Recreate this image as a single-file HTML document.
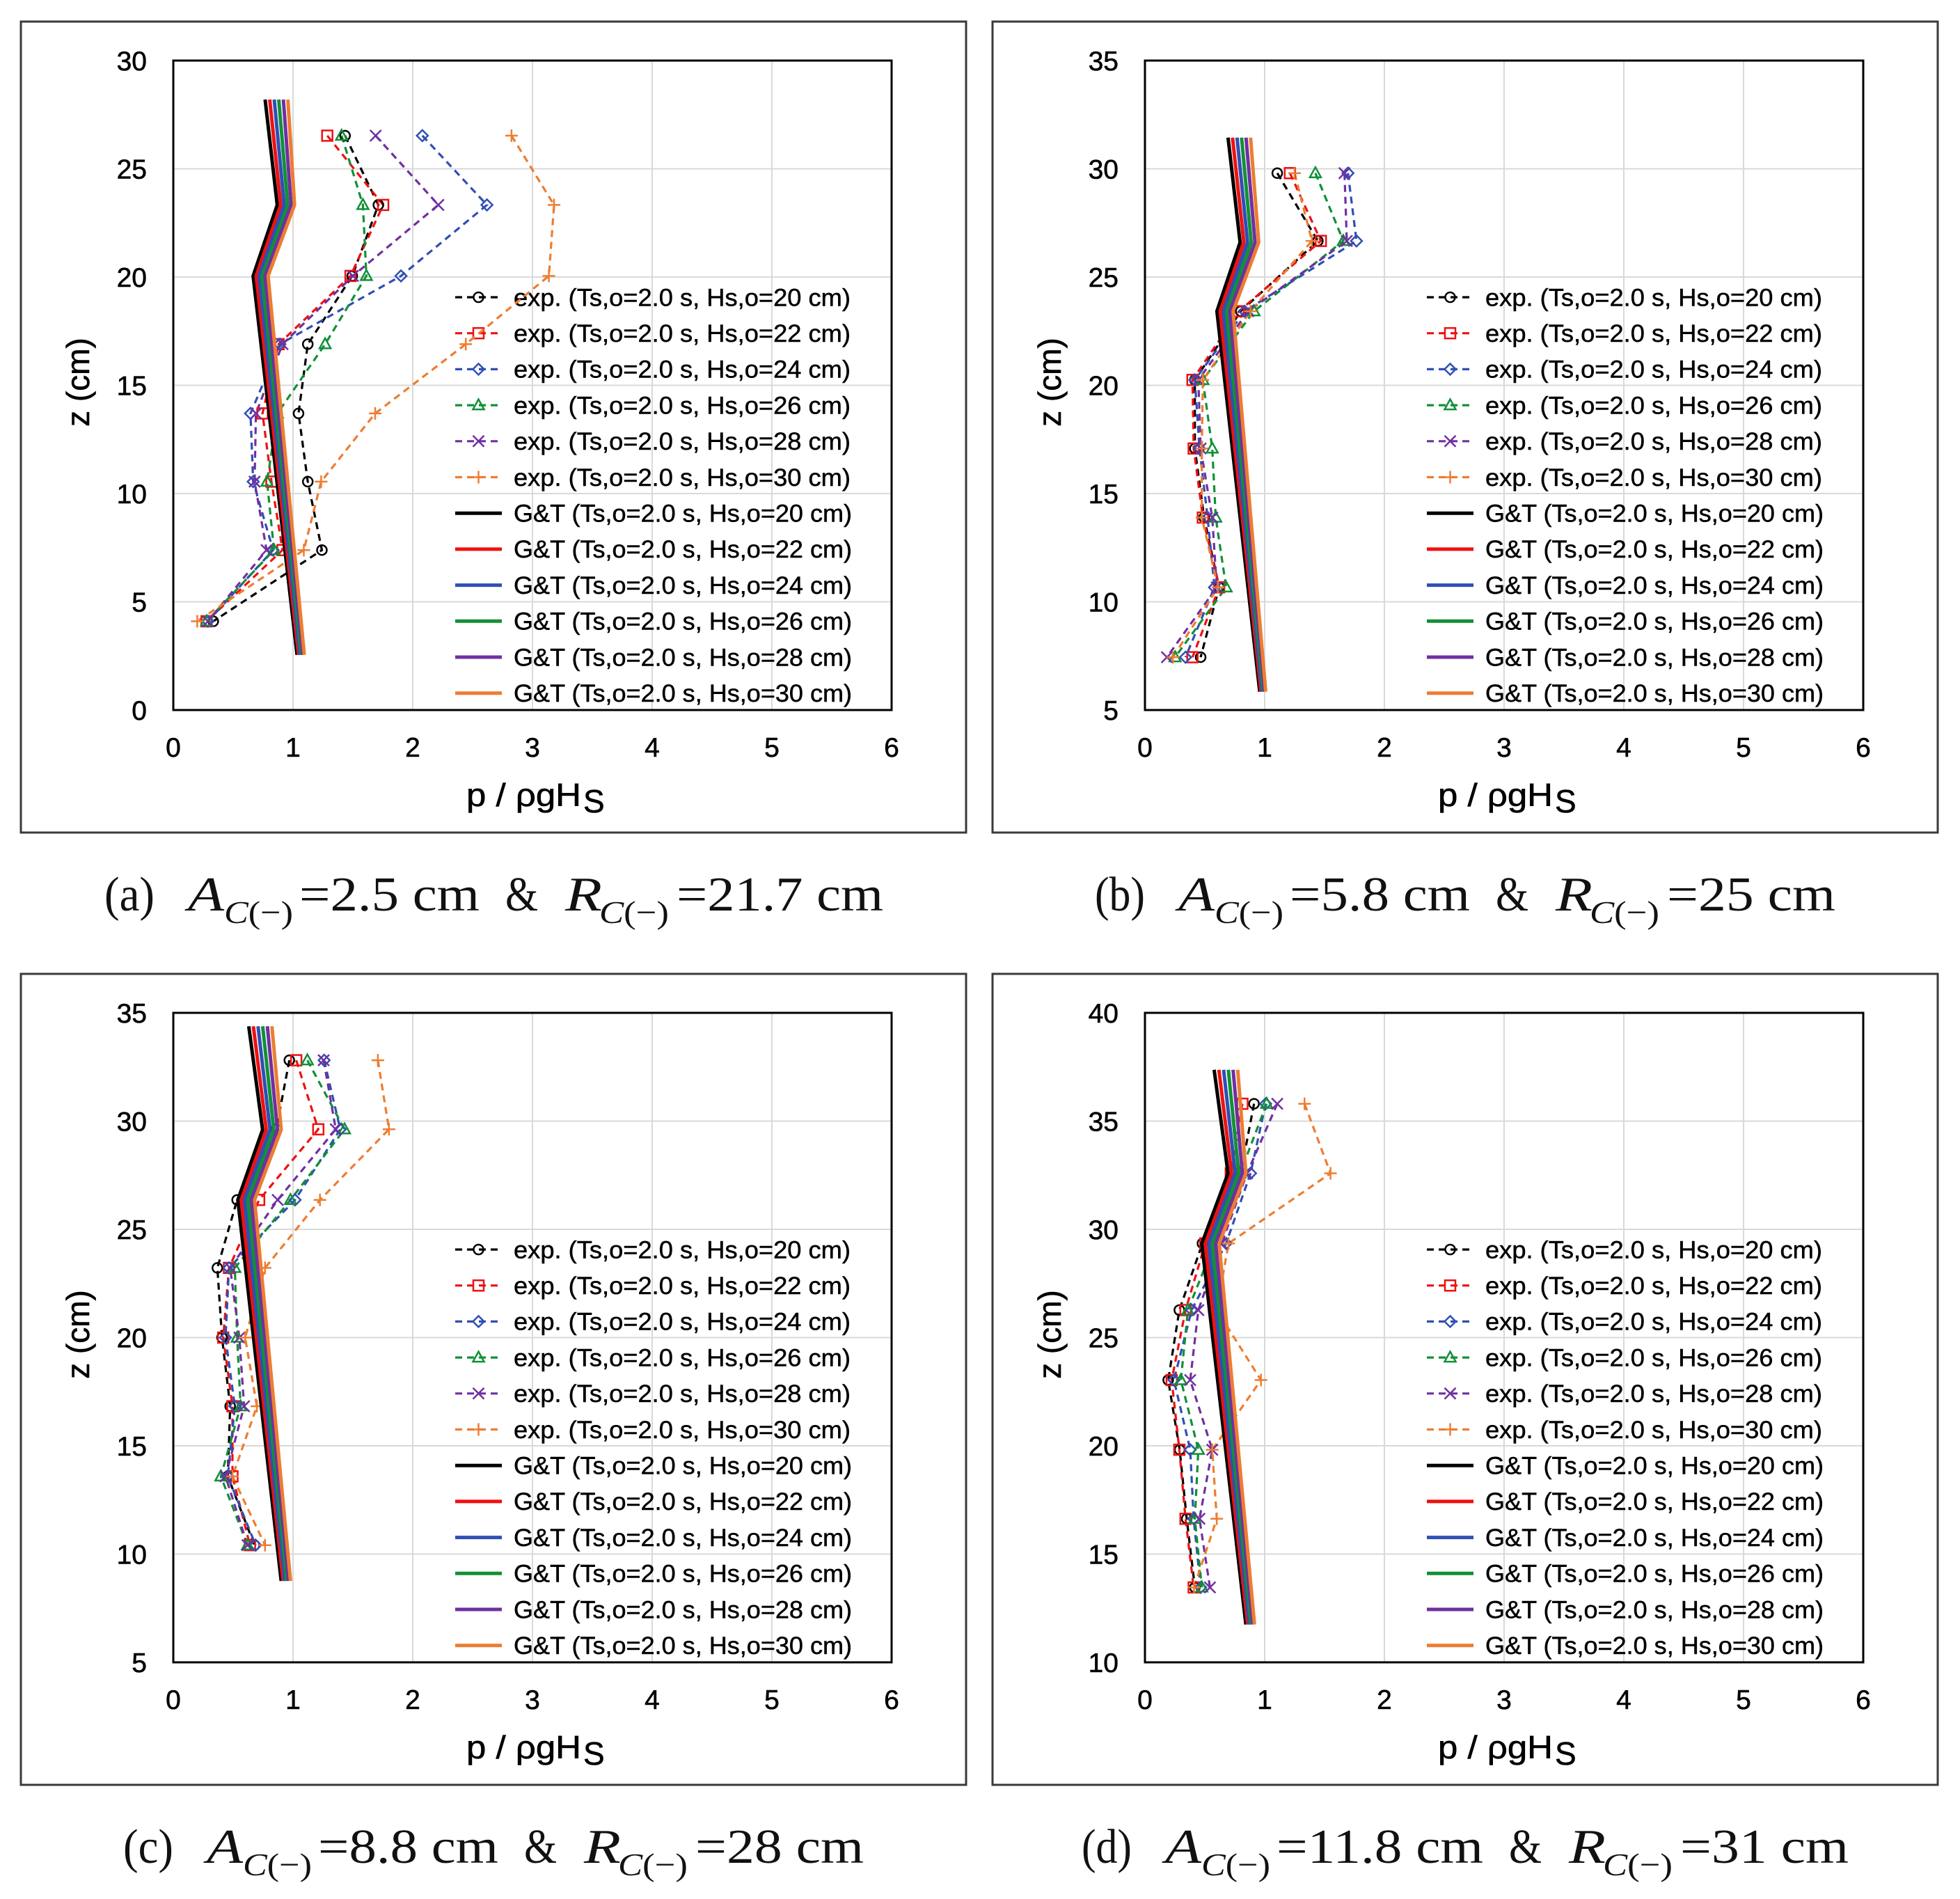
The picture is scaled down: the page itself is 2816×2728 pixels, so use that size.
<!DOCTYPE html>
<html><head><meta charset="utf-8">
<style>
html,body{margin:0;padding:0;background:#fff;}
svg{display:block;}
.tk{font-family:"Liberation Sans",sans-serif;font-size:39px;fill:#000;stroke:#000;stroke-width:0.6px;}
.lg{font-family:"Liberation Sans",sans-serif;font-size:35px;fill:#000;stroke:#000;stroke-width:0.5px;}
.ttl{font-family:"Liberation Sans",sans-serif;font-size:46px;fill:#000;stroke:#000;stroke-width:0.6px;}
.cap{font-family:"Liberation Serif",serif;font-size:70px;fill:#111;}
.sub{font-family:"Liberation Serif",serif;font-size:46px;fill:#111;}
.gt{fill:none;stroke-width:5;stroke-linejoin:round;}
.ex{fill:none;stroke-width:3.2;stroke-dasharray:10 7;}
</style></head><body>
<svg xmlns="http://www.w3.org/2000/svg" width="2816" height="2728" viewBox="0 0 2816 2728">
<defs>
<g id="mk0"><circle r="7" fill="none" stroke="#000" stroke-width="2.5"/></g>
<g id="mk1"><rect x="-7.5" y="-7.5" width="15" height="15" fill="none" stroke="#ee1111" stroke-width="2.5"/></g>
<g id="mk2"><path d="M0,-8 L8,0 L0,8 L-8,0Z" fill="none" stroke="#2f4fb5" stroke-width="2.5"/></g>
<g id="mk3"><path d="M0,-8.5 L8,6 L-8,6Z" fill="none" stroke="#119037" stroke-width="2.5"/></g>
<g id="mk4"><path d="M-8,-8 L8,8 M-8,8 L8,-8" stroke="#7030a0" stroke-width="2.5"/></g>
<g id="mk5"><path d="M-9,0 L9,0 M0,-9 L0,9" stroke="#ed7d31" stroke-width="2.5"/></g>
</defs>
<rect width="2816" height="2728" fill="#fff"/>

<!-- ================= PANEL A ================= -->
<g transform="translate(0,0)">
<rect x="30" y="31" width="1358" height="1165" fill="none" stroke="#3a3a3a" stroke-width="3"/>
<g stroke="#d9d9d9" stroke-width="2">
<line x1="249" x2="1281" y1="242.5" y2="242.5"/><line x1="249" x2="1281" y1="398" y2="398"/><line x1="249" x2="1281" y1="553.5" y2="553.5"/><line x1="249" x2="1281" y1="709" y2="709"/><line x1="249" x2="1281" y1="864.5" y2="864.5"/>
<line x1="421" x2="421" y1="87" y2="1020"/><line x1="593" x2="593" y1="87" y2="1020"/><line x1="765" x2="765" y1="87" y2="1020"/><line x1="937" x2="937" y1="87" y2="1020"/><line x1="1109" x2="1109" y1="87" y2="1020"/>
</g>
<rect x="249" y="87" width="1032" height="933" fill="none" stroke="#000" stroke-width="3"/>
<g class="tk" text-anchor="end">
<text x="211" y="101">30</text><text x="211" y="256.5">25</text><text x="211" y="412">20</text><text x="211" y="567.5">15</text><text x="211" y="723">10</text><text x="211" y="878.5">5</text><text x="211" y="1034">0</text>
</g>
<g class="tk" text-anchor="middle">
<text x="249" y="1087">0</text><text x="421" y="1087">1</text><text x="593" y="1087">2</text><text x="765" y="1087">3</text><text x="937" y="1087">4</text><text x="1109" y="1087">5</text><text x="1281" y="1087">6</text>
</g>
<text x="670" y="1158" class="ttl" textLength="165" lengthAdjust="spacingAndGlyphs">p / ρgH</text><text x="838" y="1167" class="ttl" font-size="30">S</text>
<text transform="translate(128,549) rotate(-90)" text-anchor="middle" class="ttl" font-size="48">z (cm)</text>
<!-- legend -->
<g class="ex"><line x1="654" x2="721" y1="427" y2="427" stroke="#000"/><line x1="654" x2="721" y1="478.7" y2="478.7" stroke="#ee1111"/><line x1="654" x2="721" y1="530.4" y2="530.4" stroke="#2f4fb5"/><line x1="654" x2="721" y1="582.1" y2="582.1" stroke="#119037"/><line x1="654" x2="721" y1="633.8" y2="633.8" stroke="#7030a0"/><line x1="654" x2="721" y1="685.5" y2="685.5" stroke="#ed7d31"/></g>
<use href="#mk0" x="687.5" y="427"/><use href="#mk1" x="687.5" y="478.7"/><use href="#mk2" x="687.5" y="530.4"/><use href="#mk3" x="687.5" y="582.1"/><use href="#mk4" x="687.5" y="633.8"/><use href="#mk5" x="687.5" y="685.5"/>
<g class="gt"><line x1="654" x2="721" y1="737.2" y2="737.2" stroke="#000"/><line x1="654" x2="721" y1="788.9" y2="788.9" stroke="#ee1111"/><line x1="654" x2="721" y1="840.6" y2="840.6" stroke="#2f4fb5"/><line x1="654" x2="721" y1="892.3" y2="892.3" stroke="#119037"/><line x1="654" x2="721" y1="944" y2="944" stroke="#7030a0"/><line x1="654" x2="721" y1="995.7" y2="995.7" stroke="#ed7d31"/></g>
<g class="lg">
<text x="738" y="439.3" textLength="484" lengthAdjust="spacingAndGlyphs">exp. (Ts,o=2.0 s, Hs,o=20 cm)</text>
<text x="738" y="491" textLength="484" lengthAdjust="spacingAndGlyphs">exp. (Ts,o=2.0 s, Hs,o=22 cm)</text>
<text x="738" y="542.7" textLength="484" lengthAdjust="spacingAndGlyphs">exp. (Ts,o=2.0 s, Hs,o=24 cm)</text>
<text x="738" y="594.4" textLength="484" lengthAdjust="spacingAndGlyphs">exp. (Ts,o=2.0 s, Hs,o=26 cm)</text>
<text x="738" y="646.1" textLength="484" lengthAdjust="spacingAndGlyphs">exp. (Ts,o=2.0 s, Hs,o=28 cm)</text>
<text x="738" y="697.8" textLength="484" lengthAdjust="spacingAndGlyphs">exp. (Ts,o=2.0 s, Hs,o=30 cm)</text>
<text x="738" y="749.5" textLength="486" lengthAdjust="spacingAndGlyphs">G&amp;T (Ts,o=2.0 s, Hs,o=20 cm)</text>
<text x="738" y="801.2" textLength="486" lengthAdjust="spacingAndGlyphs">G&amp;T (Ts,o=2.0 s, Hs,o=22 cm)</text>
<text x="738" y="852.9" textLength="486" lengthAdjust="spacingAndGlyphs">G&amp;T (Ts,o=2.0 s, Hs,o=24 cm)</text>
<text x="738" y="904.6" textLength="486" lengthAdjust="spacingAndGlyphs">G&amp;T (Ts,o=2.0 s, Hs,o=26 cm)</text>
<text x="738" y="956.3" textLength="486" lengthAdjust="spacingAndGlyphs">G&amp;T (Ts,o=2.0 s, Hs,o=28 cm)</text>
<text x="738" y="1008" textLength="486" lengthAdjust="spacingAndGlyphs">G&amp;T (Ts,o=2.0 s, Hs,o=30 cm)</text>
</g>
<!-- data -->
<g transform="translate(249,1020)">
<polyline class="ex" stroke="#000" points="246.8,-825.1 294.6,-725.6 257.1,-623.6 193.2,-525.6 179.9,-426.1 193.2,-328.1 213.5,-229.8 57.4,-127.5"/>
<polyline class="ex" stroke="#ee1111" points="221.2,-825.1 301.5,-725.6 254.6,-623.6 151.2,-525.6 128.1,-426.1 141,-328.1 156.9,-229.8 47.8,-127.5"/>
<polyline class="ex" stroke="#2f4fb5" points="357.8,-825.1 450.6,-725.6 327.1,-623.6 153.1,-525.6 110.9,-426.1 114.7,-328.1 143.4,-229.8 49.7,-127.5"/>
<polyline class="ex" stroke="#119037" points="241.8,-825.1 272.4,-725.6 277.4,-623.6 218.1,-525.6 149.6,-426.1 134.7,-328.1 144.7,-229.8 47.8,-127.5"/>
<polyline class="ex" stroke="#7030a0" points="290.7,-825.1 380.8,-725.6 258,-623.6 156.9,-525.6 118.7,-426.1 116.8,-328.1 134,-229.8 49.7,-127.5"/>
<polyline class="ex" stroke="#ed7d31" points="485.9,-825.1 547,-725.6 539.6,-623.6 420.2,-525.6 290,-426.1 212.4,-328.1 187.5,-229.8 34.4,-127.5"/>
<use href="#mk0" x="246.8" y="-825.1"/><use href="#mk0" x="294.6" y="-725.6"/><use href="#mk0" x="257.1" y="-623.6"/><use href="#mk0" x="193.2" y="-525.6"/><use href="#mk0" x="179.9" y="-426.1"/><use href="#mk0" x="193.2" y="-328.1"/><use href="#mk0" x="213.5" y="-229.8"/><use href="#mk0" x="57.4" y="-127.5"/>
<use href="#mk1" x="221.2" y="-825.1"/><use href="#mk1" x="301.5" y="-725.6"/><use href="#mk1" x="254.6" y="-623.6"/><use href="#mk1" x="151.2" y="-525.6"/><use href="#mk1" x="128.1" y="-426.1"/><use href="#mk1" x="141" y="-328.1"/><use href="#mk1" x="156.9" y="-229.8"/><use href="#mk1" x="47.8" y="-127.5"/>
<use href="#mk2" x="357.8" y="-825.1"/><use href="#mk2" x="450.6" y="-725.6"/><use href="#mk2" x="327.1" y="-623.6"/><use href="#mk2" x="153.1" y="-525.6"/><use href="#mk2" x="110.9" y="-426.1"/><use href="#mk2" x="114.7" y="-328.1"/><use href="#mk2" x="143.4" y="-229.8"/><use href="#mk2" x="49.7" y="-127.5"/>
<use href="#mk3" x="241.8" y="-825.1"/><use href="#mk3" x="272.4" y="-725.6"/><use href="#mk3" x="277.4" y="-623.6"/><use href="#mk3" x="218.1" y="-525.6"/><use href="#mk3" x="149.6" y="-426.1"/><use href="#mk3" x="134.7" y="-328.1"/><use href="#mk3" x="144.7" y="-229.8"/><use href="#mk3" x="47.8" y="-127.5"/>
<use href="#mk4" x="290.7" y="-825.1"/><use href="#mk4" x="380.8" y="-725.6"/><use href="#mk4" x="258" y="-623.6"/><use href="#mk4" x="156.9" y="-525.6"/><use href="#mk4" x="118.7" y="-426.1"/><use href="#mk4" x="116.8" y="-328.1"/><use href="#mk4" x="134" y="-229.8"/><use href="#mk4" x="49.7" y="-127.5"/>
<use href="#mk5" x="485.9" y="-825.1"/><use href="#mk5" x="547" y="-725.6"/><use href="#mk5" x="539.6" y="-623.6"/><use href="#mk5" x="420.2" y="-525.6"/><use href="#mk5" x="290" y="-426.1"/><use href="#mk5" x="212.4" y="-328.1"/><use href="#mk5" x="187.5" y="-229.8"/><use href="#mk5" x="34.4" y="-127.5"/>
<polyline class="gt" stroke="#000" points="131.9,-877 149.3,-725.6 114.7,-623.6 177.8,-79.3"/>
<polyline class="gt" stroke="#ee1111" points="138.5,-877 154.3,-725.6 119.0,-623.6 179.9,-79.3"/>
<polyline class="gt" stroke="#2f4fb5" points="145.0,-877 159.3,-725.6 123.3,-623.6 182.0,-79.3"/>
<polyline class="gt" stroke="#119037" points="151.5,-877 164.3,-725.6 127.6,-623.6 184.0,-79.3"/>
<polyline class="gt" stroke="#7030a0" points="158.1,-877 169.2,-725.6 131.9,-623.6 186.1,-79.3"/>
<polyline class="gt" stroke="#ed7d31" points="164.6,-877 174.2,-725.6 136.2,-623.6 188.2,-79.3"/>
</g>
<!-- caption -->
<text class="cap" x="150" y="1308" textLength="72" lengthAdjust="spacingAndGlyphs">(a)</text>
<text class="cap" x="270" y="1308" font-style="italic" textLength="52" lengthAdjust="spacingAndGlyphs">A</text>
<text class="sub" x="322" y="1326" textLength="99" lengthAdjust="spacingAndGlyphs"><tspan font-style="italic">C</tspan>(−)</text>
<text class="cap" x="430" y="1308" textLength="259" lengthAdjust="spacingAndGlyphs">=2.5 cm</text>
<text class="cap" x="726" y="1308" textLength="47" lengthAdjust="spacingAndGlyphs">&amp;</text>
<text class="cap" x="812" y="1308" font-style="italic" textLength="53" lengthAdjust="spacingAndGlyphs">R</text>
<text class="sub" x="861" y="1326" textLength="100" lengthAdjust="spacingAndGlyphs"><tspan font-style="italic">C</tspan>(−)</text>
<text class="cap" x="972" y="1308" textLength="297" lengthAdjust="spacingAndGlyphs">=21.7 cm</text>
</g>

<!-- ================= PANEL B ================= -->
<g transform="translate(1396,0)">
<rect x="30" y="31" width="1358" height="1165" fill="none" stroke="#3a3a3a" stroke-width="3"/>
<g stroke="#d9d9d9" stroke-width="2">
<line x1="249" x2="1281" y1="242.5" y2="242.5"/><line x1="249" x2="1281" y1="398" y2="398"/><line x1="249" x2="1281" y1="553.5" y2="553.5"/><line x1="249" x2="1281" y1="709" y2="709"/><line x1="249" x2="1281" y1="864.5" y2="864.5"/>
<line x1="421" x2="421" y1="87" y2="1020"/><line x1="593" x2="593" y1="87" y2="1020"/><line x1="765" x2="765" y1="87" y2="1020"/><line x1="937" x2="937" y1="87" y2="1020"/><line x1="1109" x2="1109" y1="87" y2="1020"/>
</g>
<rect x="249" y="87" width="1032" height="933" fill="none" stroke="#000" stroke-width="3"/>
<g class="tk" text-anchor="end">
<text x="211" y="101">35</text><text x="211" y="256.5">30</text><text x="211" y="412">25</text><text x="211" y="567.5">20</text><text x="211" y="723">15</text><text x="211" y="878.5">10</text><text x="211" y="1034">5</text>
</g>
<g class="tk" text-anchor="middle">
<text x="249" y="1087">0</text><text x="421" y="1087">1</text><text x="593" y="1087">2</text><text x="765" y="1087">3</text><text x="937" y="1087">4</text><text x="1109" y="1087">5</text><text x="1281" y="1087">6</text>
</g>
<text x="670" y="1158" class="ttl" textLength="165" lengthAdjust="spacingAndGlyphs">p / ρgH</text><text x="838" y="1167" class="ttl" font-size="30">S</text>
<text transform="translate(128,549) rotate(-90)" text-anchor="middle" class="ttl" font-size="48">z (cm)</text>
<g class="ex"><line x1="654" x2="721" y1="427" y2="427" stroke="#000"/><line x1="654" x2="721" y1="478.7" y2="478.7" stroke="#ee1111"/><line x1="654" x2="721" y1="530.4" y2="530.4" stroke="#2f4fb5"/><line x1="654" x2="721" y1="582.1" y2="582.1" stroke="#119037"/><line x1="654" x2="721" y1="633.8" y2="633.8" stroke="#7030a0"/><line x1="654" x2="721" y1="685.5" y2="685.5" stroke="#ed7d31"/></g>
<use href="#mk0" x="687.5" y="427"/><use href="#mk1" x="687.5" y="478.7"/><use href="#mk2" x="687.5" y="530.4"/><use href="#mk3" x="687.5" y="582.1"/><use href="#mk4" x="687.5" y="633.8"/><use href="#mk5" x="687.5" y="685.5"/>
<g class="gt"><line x1="654" x2="721" y1="737.2" y2="737.2" stroke="#000"/><line x1="654" x2="721" y1="788.9" y2="788.9" stroke="#ee1111"/><line x1="654" x2="721" y1="840.6" y2="840.6" stroke="#2f4fb5"/><line x1="654" x2="721" y1="892.3" y2="892.3" stroke="#119037"/><line x1="654" x2="721" y1="944" y2="944" stroke="#7030a0"/><line x1="654" x2="721" y1="995.7" y2="995.7" stroke="#ed7d31"/></g>
<g class="lg">
<text x="738" y="439.3" textLength="484" lengthAdjust="spacingAndGlyphs">exp. (Ts,o=2.0 s, Hs,o=20 cm)</text>
<text x="738" y="491" textLength="484" lengthAdjust="spacingAndGlyphs">exp. (Ts,o=2.0 s, Hs,o=22 cm)</text>
<text x="738" y="542.7" textLength="484" lengthAdjust="spacingAndGlyphs">exp. (Ts,o=2.0 s, Hs,o=24 cm)</text>
<text x="738" y="594.4" textLength="484" lengthAdjust="spacingAndGlyphs">exp. (Ts,o=2.0 s, Hs,o=26 cm)</text>
<text x="738" y="646.1" textLength="484" lengthAdjust="spacingAndGlyphs">exp. (Ts,o=2.0 s, Hs,o=28 cm)</text>
<text x="738" y="697.8" textLength="484" lengthAdjust="spacingAndGlyphs">exp. (Ts,o=2.0 s, Hs,o=30 cm)</text>
<text x="738" y="749.5" textLength="486" lengthAdjust="spacingAndGlyphs">G&amp;T (Ts,o=2.0 s, Hs,o=20 cm)</text>
<text x="738" y="801.2" textLength="486" lengthAdjust="spacingAndGlyphs">G&amp;T (Ts,o=2.0 s, Hs,o=22 cm)</text>
<text x="738" y="852.9" textLength="486" lengthAdjust="spacingAndGlyphs">G&amp;T (Ts,o=2.0 s, Hs,o=24 cm)</text>
<text x="738" y="904.6" textLength="486" lengthAdjust="spacingAndGlyphs">G&amp;T (Ts,o=2.0 s, Hs,o=26 cm)</text>
<text x="738" y="956.3" textLength="486" lengthAdjust="spacingAndGlyphs">G&amp;T (Ts,o=2.0 s, Hs,o=28 cm)</text>
<text x="738" y="1008" textLength="486" lengthAdjust="spacingAndGlyphs">G&amp;T (Ts,o=2.0 s, Hs,o=30 cm)</text>
</g>
<g transform="translate(249,1020)">
<polyline class="ex" stroke="#000" points="190.1,-771.3 248.4,-673.9 137.6,-572.9 71.7,-474.3 71.7,-375.7 85,-276.5 106.6,-176.3 80,-75.9"/>
<polyline class="ex" stroke="#ee1111" points="208.3,-771.3 252.7,-673.9 135,-572.9 68.3,-474.3 70,-375.7 83.2,-276.5 106.6,-176.3 68.3,-75.9"/>
<polyline class="ex" stroke="#2f4fb5" points="291.7,-771.3 303.9,-673.9 143.3,-572.9 71.7,-474.3 78.3,-375.7 90,-276.5 99.9,-176.3 58.3,-75.9"/>
<polyline class="ex" stroke="#119037" points="244.9,-771.3 285,-673.9 156.7,-572.9 83.2,-474.3 96.7,-375.7 101.7,-276.5 116.6,-176.3 43.3,-75.9"/>
<polyline class="ex" stroke="#7030a0" points="286.7,-771.3 290,-673.9 148.3,-572.9 76.7,-474.3 80,-375.7 96.7,-276.5 103.2,-176.3 31.6,-75.9"/>
<polyline class="ex" stroke="#ed7d31" points="215,-771.3 239.9,-673.9 151.7,-572.9 83.2,-474.3 81.7,-375.7 81.7,-276.5 104.9,-176.3 40.1,-75.9"/>
<use href="#mk0" x="190.1" y="-771.3"/><use href="#mk0" x="248.4" y="-673.9"/><use href="#mk0" x="137.6" y="-572.9"/><use href="#mk0" x="71.7" y="-474.3"/><use href="#mk0" x="71.7" y="-375.7"/><use href="#mk0" x="85" y="-276.5"/><use href="#mk0" x="106.6" y="-176.3"/><use href="#mk0" x="80" y="-75.9"/>
<use href="#mk1" x="208.3" y="-771.3"/><use href="#mk1" x="252.7" y="-673.9"/><use href="#mk1" x="135" y="-572.9"/><use href="#mk1" x="68.3" y="-474.3"/><use href="#mk1" x="70" y="-375.7"/><use href="#mk1" x="83.2" y="-276.5"/><use href="#mk1" x="106.6" y="-176.3"/><use href="#mk1" x="68.3" y="-75.9"/>
<use href="#mk2" x="291.7" y="-771.3"/><use href="#mk2" x="303.9" y="-673.9"/><use href="#mk2" x="143.3" y="-572.9"/><use href="#mk2" x="71.7" y="-474.3"/><use href="#mk2" x="78.3" y="-375.7"/><use href="#mk2" x="90" y="-276.5"/><use href="#mk2" x="99.9" y="-176.3"/><use href="#mk2" x="58.3" y="-75.9"/>
<use href="#mk3" x="244.9" y="-771.3"/><use href="#mk3" x="285" y="-673.9"/><use href="#mk3" x="156.7" y="-572.9"/><use href="#mk3" x="83.2" y="-474.3"/><use href="#mk3" x="96.7" y="-375.7"/><use href="#mk3" x="101.7" y="-276.5"/><use href="#mk3" x="116.6" y="-176.3"/><use href="#mk3" x="43.3" y="-75.9"/>
<use href="#mk4" x="286.7" y="-771.3"/><use href="#mk4" x="290" y="-673.9"/><use href="#mk4" x="148.3" y="-572.9"/><use href="#mk4" x="76.7" y="-474.3"/><use href="#mk4" x="80" y="-375.7"/><use href="#mk4" x="96.7" y="-276.5"/><use href="#mk4" x="103.2" y="-176.3"/><use href="#mk4" x="31.6" y="-75.9"/>
<use href="#mk5" x="215" y="-771.3"/><use href="#mk5" x="239.9" y="-673.9"/><use href="#mk5" x="151.7" y="-572.9"/><use href="#mk5" x="83.2" y="-474.3"/><use href="#mk5" x="81.7" y="-375.7"/><use href="#mk5" x="81.7" y="-276.5"/><use href="#mk5" x="104.9" y="-176.3"/><use href="#mk5" x="40.1" y="-75.9"/>
<polyline class="gt" stroke="#000" points="119.4,-822.3 136.7,-671.8 103.4,-572.9 164.9,-26.4"/>
<polyline class="gt" stroke="#ee1111" points="125.8,-822.3 142.1,-671.8 108.0,-572.9 166.7,-26.4"/>
<polyline class="gt" stroke="#2f4fb5" points="132.3,-822.3 147.4,-671.8 112.7,-572.9 168.4,-26.4"/>
<polyline class="gt" stroke="#119037" points="138.8,-822.3 152.7,-671.8 117.3,-572.9 170.1,-26.4"/>
<polyline class="gt" stroke="#7030a0" points="145.2,-822.3 158.1,-671.8 122.0,-572.9 171.8,-26.4"/>
<polyline class="gt" stroke="#ed7d31" points="151.7,-822.3 163.4,-671.8 126.6,-572.9 173.5,-26.4"/>
</g>
<text class="cap" x="177" y="1308" textLength="72" lengthAdjust="spacingAndGlyphs">(b)</text>
<text class="cap" x="297" y="1308" font-style="italic" textLength="52" lengthAdjust="spacingAndGlyphs">A</text>
<text class="sub" x="349" y="1326" textLength="99" lengthAdjust="spacingAndGlyphs"><tspan font-style="italic">C</tspan>(−)</text>
<text class="cap" x="457" y="1308" textLength="259" lengthAdjust="spacingAndGlyphs">=5.8 cm</text>
<text class="cap" x="753" y="1308" textLength="47" lengthAdjust="spacingAndGlyphs">&amp;</text>
<text class="cap" x="839" y="1308" font-style="italic" textLength="53" lengthAdjust="spacingAndGlyphs">R</text>
<text class="sub" x="888" y="1326" textLength="100" lengthAdjust="spacingAndGlyphs"><tspan font-style="italic">C</tspan>(−)</text>
<text class="cap" x="999" y="1308" textLength="242" lengthAdjust="spacingAndGlyphs">=25 cm</text>
</g>

<!-- ================= PANEL C ================= -->
<g transform="translate(0,1368)">
<rect x="30" y="31" width="1358" height="1165" fill="none" stroke="#3a3a3a" stroke-width="3"/>
<g stroke="#d9d9d9" stroke-width="2">
<line x1="249" x2="1281" y1="242.5" y2="242.5"/><line x1="249" x2="1281" y1="398" y2="398"/><line x1="249" x2="1281" y1="553.5" y2="553.5"/><line x1="249" x2="1281" y1="709" y2="709"/><line x1="249" x2="1281" y1="864.5" y2="864.5"/>
<line x1="421" x2="421" y1="87" y2="1020"/><line x1="593" x2="593" y1="87" y2="1020"/><line x1="765" x2="765" y1="87" y2="1020"/><line x1="937" x2="937" y1="87" y2="1020"/><line x1="1109" x2="1109" y1="87" y2="1020"/>
</g>
<rect x="249" y="87" width="1032" height="933" fill="none" stroke="#000" stroke-width="3"/>
<g class="tk" text-anchor="end">
<text x="211" y="101">35</text><text x="211" y="256.5">30</text><text x="211" y="412">25</text><text x="211" y="567.5">20</text><text x="211" y="723">15</text><text x="211" y="878.5">10</text><text x="211" y="1034">5</text>
</g>
<g class="tk" text-anchor="middle">
<text x="249" y="1087">0</text><text x="421" y="1087">1</text><text x="593" y="1087">2</text><text x="765" y="1087">3</text><text x="937" y="1087">4</text><text x="1109" y="1087">5</text><text x="1281" y="1087">6</text>
</g>
<text x="670" y="1158" class="ttl" textLength="165" lengthAdjust="spacingAndGlyphs">p / ρgH</text><text x="838" y="1167" class="ttl" font-size="30">S</text>
<text transform="translate(128,549) rotate(-90)" text-anchor="middle" class="ttl" font-size="48">z (cm)</text>
<g class="ex"><line x1="654" x2="721" y1="427" y2="427" stroke="#000"/><line x1="654" x2="721" y1="478.7" y2="478.7" stroke="#ee1111"/><line x1="654" x2="721" y1="530.4" y2="530.4" stroke="#2f4fb5"/><line x1="654" x2="721" y1="582.1" y2="582.1" stroke="#119037"/><line x1="654" x2="721" y1="633.8" y2="633.8" stroke="#7030a0"/><line x1="654" x2="721" y1="685.5" y2="685.5" stroke="#ed7d31"/></g>
<use href="#mk0" x="687.5" y="427"/><use href="#mk1" x="687.5" y="478.7"/><use href="#mk2" x="687.5" y="530.4"/><use href="#mk3" x="687.5" y="582.1"/><use href="#mk4" x="687.5" y="633.8"/><use href="#mk5" x="687.5" y="685.5"/>
<g class="gt"><line x1="654" x2="721" y1="737.2" y2="737.2" stroke="#000"/><line x1="654" x2="721" y1="788.9" y2="788.9" stroke="#ee1111"/><line x1="654" x2="721" y1="840.6" y2="840.6" stroke="#2f4fb5"/><line x1="654" x2="721" y1="892.3" y2="892.3" stroke="#119037"/><line x1="654" x2="721" y1="944" y2="944" stroke="#7030a0"/><line x1="654" x2="721" y1="995.7" y2="995.7" stroke="#ed7d31"/></g>
<g class="lg">
<text x="738" y="439.3" textLength="484" lengthAdjust="spacingAndGlyphs">exp. (Ts,o=2.0 s, Hs,o=20 cm)</text>
<text x="738" y="491" textLength="484" lengthAdjust="spacingAndGlyphs">exp. (Ts,o=2.0 s, Hs,o=22 cm)</text>
<text x="738" y="542.7" textLength="484" lengthAdjust="spacingAndGlyphs">exp. (Ts,o=2.0 s, Hs,o=24 cm)</text>
<text x="738" y="594.4" textLength="484" lengthAdjust="spacingAndGlyphs">exp. (Ts,o=2.0 s, Hs,o=26 cm)</text>
<text x="738" y="646.1" textLength="484" lengthAdjust="spacingAndGlyphs">exp. (Ts,o=2.0 s, Hs,o=28 cm)</text>
<text x="738" y="697.8" textLength="484" lengthAdjust="spacingAndGlyphs">exp. (Ts,o=2.0 s, Hs,o=30 cm)</text>
<text x="738" y="749.5" textLength="486" lengthAdjust="spacingAndGlyphs">G&amp;T (Ts,o=2.0 s, Hs,o=20 cm)</text>
<text x="738" y="801.2" textLength="486" lengthAdjust="spacingAndGlyphs">G&amp;T (Ts,o=2.0 s, Hs,o=22 cm)</text>
<text x="738" y="852.9" textLength="486" lengthAdjust="spacingAndGlyphs">G&amp;T (Ts,o=2.0 s, Hs,o=24 cm)</text>
<text x="738" y="904.6" textLength="486" lengthAdjust="spacingAndGlyphs">G&amp;T (Ts,o=2.0 s, Hs,o=26 cm)</text>
<text x="738" y="956.3" textLength="486" lengthAdjust="spacingAndGlyphs">G&amp;T (Ts,o=2.0 s, Hs,o=28 cm)</text>
<text x="738" y="1008" textLength="486" lengthAdjust="spacingAndGlyphs">G&amp;T (Ts,o=2.0 s, Hs,o=30 cm)</text>
</g>
<g transform="translate(249,1020)">
<polyline class="ex" stroke="#000" points="166.7,-864.9 147.9,-765.7 91.7,-664.3 63.3,-566.6 70,-466.5 81.7,-367.9 78.3,-267.1 116.6,-168.3"/>
<polyline class="ex" stroke="#ee1111" points="176.6,-864.9 208.3,-765.7 123.3,-664.3 80,-566.6 71.7,-466.5 85,-367.9 85,-267.1 110.1,-168.3"/>
<polyline class="ex" stroke="#2f4fb5" points="216.7,-864.9 239.9,-765.7 174.9,-664.3 80,-566.6 75,-466.5 88.4,-367.9 78.3,-267.1 118.3,-168.3"/>
<polyline class="ex" stroke="#119037" points="192.6,-864.9 246,-765.7 168.4,-664.3 88.4,-566.6 91.7,-466.5 96.7,-367.9 68.3,-267.1 106.6,-168.3"/>
<polyline class="ex" stroke="#7030a0" points="216,-864.9 233.4,-765.7 150,-664.3 81.7,-566.6 94.9,-466.5 101.7,-367.9 75,-267.1 106.6,-168.3"/>
<polyline class="ex" stroke="#ed7d31" points="293.9,-864.9 309.9,-765.7 210.7,-664.3 131.8,-566.6 103.2,-466.5 120.1,-367.9 85,-267.1 131.8,-168.3"/>
<use href="#mk0" x="166.7" y="-864.9"/><use href="#mk0" x="147.9" y="-765.7"/><use href="#mk0" x="91.7" y="-664.3"/><use href="#mk0" x="63.3" y="-566.6"/><use href="#mk0" x="70" y="-466.5"/><use href="#mk0" x="81.7" y="-367.9"/><use href="#mk0" x="78.3" y="-267.1"/><use href="#mk0" x="116.6" y="-168.3"/>
<use href="#mk1" x="176.6" y="-864.9"/><use href="#mk1" x="208.3" y="-765.7"/><use href="#mk1" x="123.3" y="-664.3"/><use href="#mk1" x="80" y="-566.6"/><use href="#mk1" x="71.7" y="-466.5"/><use href="#mk1" x="85" y="-367.9"/><use href="#mk1" x="85" y="-267.1"/><use href="#mk1" x="110.1" y="-168.3"/>
<use href="#mk2" x="216.7" y="-864.9"/><use href="#mk2" x="239.9" y="-765.7"/><use href="#mk2" x="174.9" y="-664.3"/><use href="#mk2" x="80" y="-566.6"/><use href="#mk2" x="75" y="-466.5"/><use href="#mk2" x="88.4" y="-367.9"/><use href="#mk2" x="78.3" y="-267.1"/><use href="#mk2" x="118.3" y="-168.3"/>
<use href="#mk3" x="192.6" y="-864.9"/><use href="#mk3" x="246" y="-765.7"/><use href="#mk3" x="168.4" y="-664.3"/><use href="#mk3" x="88.4" y="-566.6"/><use href="#mk3" x="91.7" y="-466.5"/><use href="#mk3" x="96.7" y="-367.9"/><use href="#mk3" x="68.3" y="-267.1"/><use href="#mk3" x="106.6" y="-168.3"/>
<use href="#mk4" x="216" y="-864.9"/><use href="#mk4" x="233.4" y="-765.7"/><use href="#mk4" x="150" y="-664.3"/><use href="#mk4" x="81.7" y="-566.6"/><use href="#mk4" x="94.9" y="-466.5"/><use href="#mk4" x="101.7" y="-367.9"/><use href="#mk4" x="75" y="-267.1"/><use href="#mk4" x="106.6" y="-168.3"/>
<use href="#mk5" x="293.9" y="-864.9"/><use href="#mk5" x="309.9" y="-765.7"/><use href="#mk5" x="210.7" y="-664.3"/><use href="#mk5" x="131.8" y="-566.6"/><use href="#mk5" x="103.2" y="-466.5"/><use href="#mk5" x="120.1" y="-367.9"/><use href="#mk5" x="85" y="-267.1"/><use href="#mk5" x="131.8" y="-168.3"/>
<polyline class="gt" stroke="#000" points="108.4,-913.7 128.3,-765.1 92.7,-664.3 155.0,-116.9"/>
<polyline class="gt" stroke="#ee1111" points="115.0,-913.7 133.6,-765.1 97.5,-664.3 157.7,-116.9"/>
<polyline class="gt" stroke="#2f4fb5" points="121.7,-913.7 139.0,-765.1 102.3,-664.3 160.3,-116.9"/>
<polyline class="gt" stroke="#119037" points="128.4,-913.7 144.3,-765.1 107.2,-664.3 163.0,-116.9"/>
<polyline class="gt" stroke="#7030a0" points="135.1,-913.7 149.6,-765.1 112.0,-664.3 165.7,-116.9"/>
<polyline class="gt" stroke="#ed7d31" points="141.7,-913.7 155.0,-765.1 116.8,-664.3 168.4,-116.9"/>
</g>
<text class="cap" x="177" y="1308" textLength="72" lengthAdjust="spacingAndGlyphs">(c)</text>
<text class="cap" x="297" y="1308" font-style="italic" textLength="52" lengthAdjust="spacingAndGlyphs">A</text>
<text class="sub" x="349" y="1326" textLength="99" lengthAdjust="spacingAndGlyphs"><tspan font-style="italic">C</tspan>(−)</text>
<text class="cap" x="457" y="1308" textLength="259" lengthAdjust="spacingAndGlyphs">=8.8 cm</text>
<text class="cap" x="753" y="1308" textLength="47" lengthAdjust="spacingAndGlyphs">&amp;</text>
<text class="cap" x="839" y="1308" font-style="italic" textLength="53" lengthAdjust="spacingAndGlyphs">R</text>
<text class="sub" x="888" y="1326" textLength="100" lengthAdjust="spacingAndGlyphs"><tspan font-style="italic">C</tspan>(−)</text>
<text class="cap" x="999" y="1308" textLength="242" lengthAdjust="spacingAndGlyphs">=28 cm</text>
</g>

<!-- ================= PANEL D ================= -->
<g transform="translate(1396,1368)">
<rect x="30" y="31" width="1358" height="1165" fill="none" stroke="#3a3a3a" stroke-width="3"/>
<g stroke="#d9d9d9" stroke-width="2">
<line x1="249" x2="1281" y1="242.5" y2="242.5"/><line x1="249" x2="1281" y1="398" y2="398"/><line x1="249" x2="1281" y1="553.5" y2="553.5"/><line x1="249" x2="1281" y1="709" y2="709"/><line x1="249" x2="1281" y1="864.5" y2="864.5"/>
<line x1="421" x2="421" y1="87" y2="1020"/><line x1="593" x2="593" y1="87" y2="1020"/><line x1="765" x2="765" y1="87" y2="1020"/><line x1="937" x2="937" y1="87" y2="1020"/><line x1="1109" x2="1109" y1="87" y2="1020"/>
</g>
<rect x="249" y="87" width="1032" height="933" fill="none" stroke="#000" stroke-width="3"/>
<g class="tk" text-anchor="end">
<text x="211" y="101">40</text><text x="211" y="256.5">35</text><text x="211" y="412">30</text><text x="211" y="567.5">25</text><text x="211" y="723">20</text><text x="211" y="878.5">15</text><text x="211" y="1034">10</text>
</g>
<g class="tk" text-anchor="middle">
<text x="249" y="1087">0</text><text x="421" y="1087">1</text><text x="593" y="1087">2</text><text x="765" y="1087">3</text><text x="937" y="1087">4</text><text x="1109" y="1087">5</text><text x="1281" y="1087">6</text>
</g>
<text x="670" y="1158" class="ttl" textLength="165" lengthAdjust="spacingAndGlyphs">p / ρgH</text><text x="838" y="1167" class="ttl" font-size="30">S</text>
<text transform="translate(128,549) rotate(-90)" text-anchor="middle" class="ttl" font-size="48">z (cm)</text>
<g class="ex"><line x1="654" x2="721" y1="427" y2="427" stroke="#000"/><line x1="654" x2="721" y1="478.7" y2="478.7" stroke="#ee1111"/><line x1="654" x2="721" y1="530.4" y2="530.4" stroke="#2f4fb5"/><line x1="654" x2="721" y1="582.1" y2="582.1" stroke="#119037"/><line x1="654" x2="721" y1="633.8" y2="633.8" stroke="#7030a0"/><line x1="654" x2="721" y1="685.5" y2="685.5" stroke="#ed7d31"/></g>
<use href="#mk0" x="687.5" y="427"/><use href="#mk1" x="687.5" y="478.7"/><use href="#mk2" x="687.5" y="530.4"/><use href="#mk3" x="687.5" y="582.1"/><use href="#mk4" x="687.5" y="633.8"/><use href="#mk5" x="687.5" y="685.5"/>
<g class="gt"><line x1="654" x2="721" y1="737.2" y2="737.2" stroke="#000"/><line x1="654" x2="721" y1="788.9" y2="788.9" stroke="#ee1111"/><line x1="654" x2="721" y1="840.6" y2="840.6" stroke="#2f4fb5"/><line x1="654" x2="721" y1="892.3" y2="892.3" stroke="#119037"/><line x1="654" x2="721" y1="944" y2="944" stroke="#7030a0"/><line x1="654" x2="721" y1="995.7" y2="995.7" stroke="#ed7d31"/></g>
<g class="lg">
<text x="738" y="439.3" textLength="484" lengthAdjust="spacingAndGlyphs">exp. (Ts,o=2.0 s, Hs,o=20 cm)</text>
<text x="738" y="491" textLength="484" lengthAdjust="spacingAndGlyphs">exp. (Ts,o=2.0 s, Hs,o=22 cm)</text>
<text x="738" y="542.7" textLength="484" lengthAdjust="spacingAndGlyphs">exp. (Ts,o=2.0 s, Hs,o=24 cm)</text>
<text x="738" y="594.4" textLength="484" lengthAdjust="spacingAndGlyphs">exp. (Ts,o=2.0 s, Hs,o=26 cm)</text>
<text x="738" y="646.1" textLength="484" lengthAdjust="spacingAndGlyphs">exp. (Ts,o=2.0 s, Hs,o=28 cm)</text>
<text x="738" y="697.8" textLength="484" lengthAdjust="spacingAndGlyphs">exp. (Ts,o=2.0 s, Hs,o=30 cm)</text>
<text x="738" y="749.5" textLength="486" lengthAdjust="spacingAndGlyphs">G&amp;T (Ts,o=2.0 s, Hs,o=20 cm)</text>
<text x="738" y="801.2" textLength="486" lengthAdjust="spacingAndGlyphs">G&amp;T (Ts,o=2.0 s, Hs,o=22 cm)</text>
<text x="738" y="852.9" textLength="486" lengthAdjust="spacingAndGlyphs">G&amp;T (Ts,o=2.0 s, Hs,o=24 cm)</text>
<text x="738" y="904.6" textLength="486" lengthAdjust="spacingAndGlyphs">G&amp;T (Ts,o=2.0 s, Hs,o=26 cm)</text>
<text x="738" y="956.3" textLength="486" lengthAdjust="spacingAndGlyphs">G&amp;T (Ts,o=2.0 s, Hs,o=28 cm)</text>
<text x="738" y="1008" textLength="486" lengthAdjust="spacingAndGlyphs">G&amp;T (Ts,o=2.0 s, Hs,o=30 cm)</text>
</g>
<g transform="translate(249,1020)">
<polyline class="ex" stroke="#000" points="156.7,-802.4 137.6,-702.5 82.6,-601.8 49.4,-506 33.4,-405.5 49.9,-305.4 60,-206.2 71.7,-107.6"/>
<polyline class="ex" stroke="#ee1111" points="140,-802.4 123.3,-702.5 86.7,-601.8 58.3,-506 38.4,-405.5 49.4,-305.4 58.3,-206.2 70,-107.6"/>
<polyline class="ex" stroke="#2f4fb5" points="173.4,-802.4 151.7,-702.5 116.6,-601.8 67.1,-506 41.6,-405.5 65,-305.4 70,-206.2 80,-107.6"/>
<polyline class="ex" stroke="#119037" points="174.9,-802.4 136.7,-702.5 99.9,-601.8 61.7,-506 51.6,-405.5 76.7,-305.4 71.7,-206.2 81.7,-107.6"/>
<polyline class="ex" stroke="#7030a0" points="190.1,-802.4 146.7,-702.5 110.1,-601.8 76.7,-506 65,-405.5 96.7,-305.4 78.3,-206.2 93.4,-107.6"/>
<polyline class="ex" stroke="#ed7d31" points="229.3,-802.4 266.6,-702.5 120.1,-601.8 103.2,-506 166.7,-405.5 96.7,-305.4 103.2,-206.2 70.5,-107.6"/>
<use href="#mk0" x="156.7" y="-802.4"/><use href="#mk0" x="137.6" y="-702.5"/><use href="#mk0" x="82.6" y="-601.8"/><use href="#mk0" x="49.4" y="-506"/><use href="#mk0" x="33.4" y="-405.5"/><use href="#mk0" x="49.9" y="-305.4"/><use href="#mk0" x="60" y="-206.2"/><use href="#mk0" x="71.7" y="-107.6"/>
<use href="#mk1" x="140" y="-802.4"/><use href="#mk1" x="123.3" y="-702.5"/><use href="#mk1" x="86.7" y="-601.8"/><use href="#mk1" x="58.3" y="-506"/><use href="#mk1" x="38.4" y="-405.5"/><use href="#mk1" x="49.4" y="-305.4"/><use href="#mk1" x="58.3" y="-206.2"/><use href="#mk1" x="70" y="-107.6"/>
<use href="#mk2" x="173.4" y="-802.4"/><use href="#mk2" x="151.7" y="-702.5"/><use href="#mk2" x="116.6" y="-601.8"/><use href="#mk2" x="67.1" y="-506"/><use href="#mk2" x="41.6" y="-405.5"/><use href="#mk2" x="65" y="-305.4"/><use href="#mk2" x="70" y="-206.2"/><use href="#mk2" x="80" y="-107.6"/>
<use href="#mk3" x="174.9" y="-802.4"/><use href="#mk3" x="136.7" y="-702.5"/><use href="#mk3" x="99.9" y="-601.8"/><use href="#mk3" x="61.7" y="-506"/><use href="#mk3" x="51.6" y="-405.5"/><use href="#mk3" x="76.7" y="-305.4"/><use href="#mk3" x="71.7" y="-206.2"/><use href="#mk3" x="81.7" y="-107.6"/>
<use href="#mk4" x="190.1" y="-802.4"/><use href="#mk4" x="146.7" y="-702.5"/><use href="#mk4" x="110.1" y="-601.8"/><use href="#mk4" x="76.7" y="-506"/><use href="#mk4" x="65" y="-405.5"/><use href="#mk4" x="96.7" y="-305.4"/><use href="#mk4" x="78.3" y="-206.2"/><use href="#mk4" x="93.4" y="-107.6"/>
<use href="#mk5" x="229.3" y="-802.4"/><use href="#mk5" x="266.6" y="-702.5"/><use href="#mk5" x="120.1" y="-601.8"/><use href="#mk5" x="103.2" y="-506"/><use href="#mk5" x="166.7" y="-405.5"/><use href="#mk5" x="96.7" y="-305.4"/><use href="#mk5" x="103.2" y="-206.2"/><use href="#mk5" x="70.5" y="-107.6"/>
<polyline class="gt" stroke="#000" points="99.4,-851.2 119.4,-702.5 81.7,-601.5 145.0,-54.4"/>
<polyline class="gt" stroke="#ee1111" points="106.2,-851.2 124.5,-702.5 86.7,-601.5 147.5,-54.4"/>
<polyline class="gt" stroke="#2f4fb5" points="113.0,-851.2 129.6,-702.5 91.7,-601.5 150.0,-54.4"/>
<polyline class="gt" stroke="#119037" points="119.8,-851.2 134.7,-702.5 96.7,-601.5 152.4,-54.4"/>
<polyline class="gt" stroke="#7030a0" points="126.6,-851.2 139.9,-702.5 101.6,-601.5 154.9,-54.4"/>
<polyline class="gt" stroke="#ed7d31" points="133.3,-851.2 145.0,-702.5 106.6,-601.5 157.4,-54.4"/>
</g>
<text class="cap" x="158" y="1308" textLength="72" lengthAdjust="spacingAndGlyphs">(d)</text>
<text class="cap" x="278" y="1308" font-style="italic" textLength="52" lengthAdjust="spacingAndGlyphs">A</text>
<text class="sub" x="330" y="1326" textLength="99" lengthAdjust="spacingAndGlyphs"><tspan font-style="italic">C</tspan>(−)</text>
<text class="cap" x="438" y="1308" textLength="297" lengthAdjust="spacingAndGlyphs">=11.8 cm</text>
<text class="cap" x="772" y="1308" textLength="47" lengthAdjust="spacingAndGlyphs">&amp;</text>
<text class="cap" x="858" y="1308" font-style="italic" textLength="53" lengthAdjust="spacingAndGlyphs">R</text>
<text class="sub" x="907" y="1326" textLength="100" lengthAdjust="spacingAndGlyphs"><tspan font-style="italic">C</tspan>(−)</text>
<text class="cap" x="1018" y="1308" textLength="242" lengthAdjust="spacingAndGlyphs">=31 cm</text>
</g>
</svg>
</body></html>
